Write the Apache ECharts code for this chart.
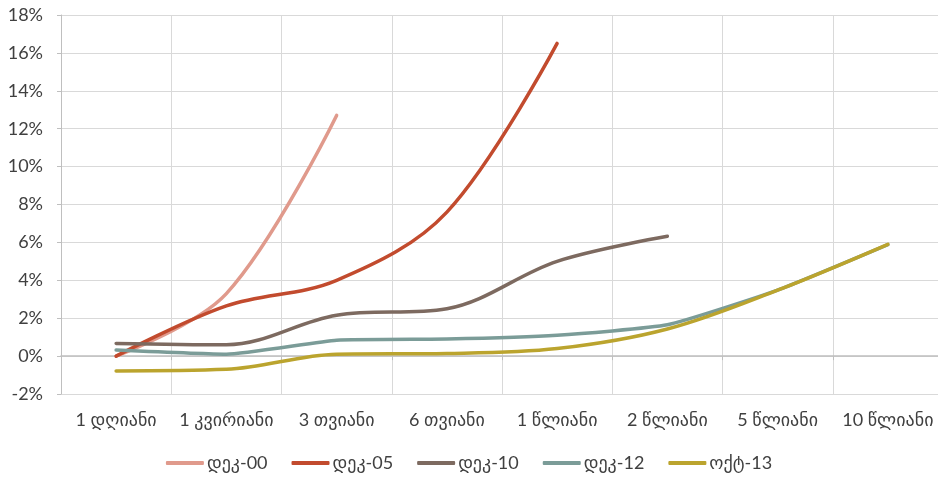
<!DOCTYPE html>
<html>
<head>
<meta charset="utf-8">
<script src="https://cdn.jsdelivr.net/npm/echarts@6/dist/echarts.min.js"></script>
<style>
  html, body { margin: 0; padding: 0; background: #fff; }
  #chart { width: 938px; height: 479px; }
</style>
</head>
<body>
<div id="chart"></div>
<script>
// Yield curve by maturity, several dates (percent)
const categories = ['1 დღიანი', '1 კვირიანი', '3 თვიანი', '6 თვიანი', '1 წლიანი', '2 წლიანი', '5 წლიანი', '10 წლიანი'];
const seriesNames = ['დეკ-00', 'დეკ-05', 'დეკ-10', 'დეკ-12', 'ოქტ-13'];
const dec00 = [0.0, 3.3, 12.7];
const dec05 = [0.0, 2.65, 4.0, 7.6, 16.5];
const dec10 = [0.67, 0.6, 2.16, 2.5, 5.0, 6.32];
const dec12 = [0.32, 0.1, 0.84, 0.9, 1.1, 1.65, 3.48, 5.88];
const oct13 = [-0.78, -0.7, 0.1, 0.14, 0.4, 1.43, 3.48, 5.9];
const yTicks = { min: -2, max: 18, interval: 2 };

const colors = ['#E09A8C', '#C24B2E', '#7D6A60', '#7B9C98', '#BBA42E'];
const smoothness = [0.35, 0.35, 0.35, 0.15, 0.35];
const values = [dec00, dec05, dec10, dec12, oct13];
const fontFamily = 'Lato, "DejaVu Sans", sans-serif';

const chart = echarts.init(document.getElementById('chart'), null, { renderer: 'canvas' });

chart.setOption({
  animation: false,
  backgroundColor: '#ffffff',
  // the plot runs a few pixels past the right edge of the canvas
  grid: { left: 61, top: 15, width: 882, height: 379, containLabel: false, outerBoundsMode: 'none' },
  legend: {
    bottom: 2,
    left: 'center',
    itemWidth: 38,
    itemHeight: 4,
    itemGap: 24,
    icon: 'roundRect',
    textStyle: { color: '#404040', fontSize: 18, fontFamily: fontFamily, padding: [0, 0, 0, -2] },
    data: seriesNames
  },
  xAxis: [
    {
      type: 'category',
      data: categories,
      boundaryGap: true,
      axisLine: { show: false },
      axisTick: { show: false },
      axisLabel: { color: '#404040', fontSize: 18, fontFamily: fontFamily, margin: 17, interval: 0 },
      splitLine: { show: true, lineStyle: { color: '#D9D9D9', width: 1 } }
    },
    {
      type: 'category',
      data: categories,
      boundaryGap: true,
      position: 'bottom',
      axisLine: { show: true, onZero: true, onZeroAxisIndex: 0, lineStyle: { color: '#BFBFBF', width: 1.5 } },
      axisTick: { show: true, length: 4, inside: false, lineStyle: { color: '#BFBFBF' } },
      axisLabel: { show: false },
      splitLine: { show: false }
    }
  ],
  yAxis: {
    type: 'value',
    min: yTicks.min,
    max: yTicks.max,
    interval: yTicks.interval,
    axisLine: { show: true, lineStyle: { color: '#BFBFBF', width: 1 } },
    axisTick: { show: true, length: 4, lineStyle: { color: '#BFBFBF' } },
    axisLabel: {
      color: '#404040', fontSize: 18, fontFamily: fontFamily, margin: 18,
      formatter: v => v + '%'
    },
    splitLine: { show: true, lineStyle: { color: '#D9D9D9', width: 1 } }
  },
  series: seriesNames.map((name, i) => ({
    name: name,
    type: 'line',
    xAxisIndex: 0,
    data: values[i],
    smooth: smoothness[i],
    showSymbol: false,
    symbol: 'none',
    lineStyle: { color: colors[i], width: 3.5, cap: 'round' },
    itemStyle: { color: colors[i] },
    z: 3 + i
  }))
});
</script>
</body>
</html>
